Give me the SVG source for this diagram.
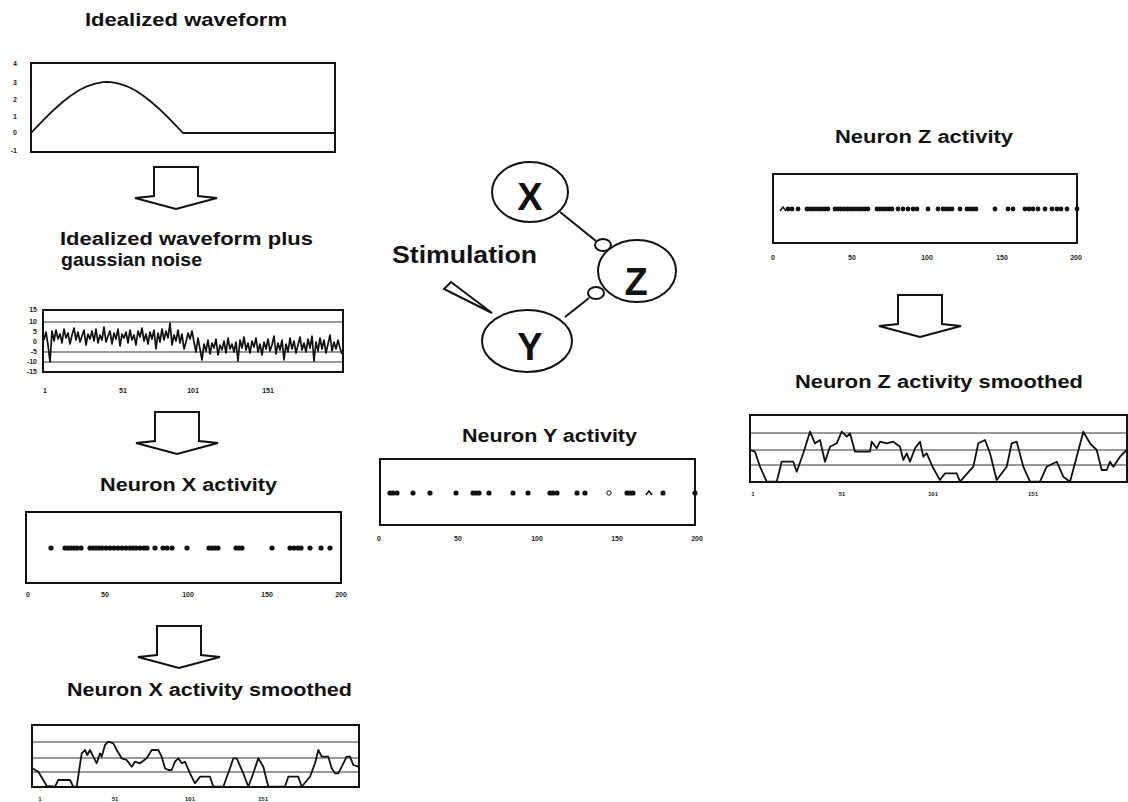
<svg xmlns="http://www.w3.org/2000/svg" width="1128" height="802" viewBox="0 0 1128 802">
<style>
.t{font-family:"Liberation Sans",Arial,sans-serif;font-weight:bold;font-size:18px;fill:#111}
.tk{font-family:"Liberation Sans",Arial,sans-serif;font-weight:bold;font-size:7px;fill:#222;text-anchor:middle}
.tky{font-family:"Liberation Sans",Arial,sans-serif;font-weight:bold;font-size:7px;fill:#222;text-anchor:end}
.nl{font-family:"Liberation Sans",Arial,sans-serif;font-weight:bold;font-size:38px;fill:#111;text-anchor:middle}
.box{fill:none;stroke:#111;stroke-width:2}
.grid{stroke:#333;stroke-width:1;fill:none}
.trace{fill:none;stroke:#111;stroke-width:1.8;stroke-linejoin:round}
.noise{fill:none;stroke:#111;stroke-width:1.7;stroke-linejoin:round}
.dot{fill:#111}
.node{fill:#fff;stroke:#111;stroke-width:2}
.link{stroke:#111;stroke-width:2;fill:none}
.arr{fill:#fff;stroke:#111;stroke-width:2;stroke-linejoin:miter}
</style>
<defs>
<polygon id="blockArrow" class="arr" points="0,0 44,0 44,29 63,31 22,42 -19,31 0,29"/>
</defs>
<rect width="1128" height="802" fill="#fff"/>

<g id="chart-idealized">
<text class="t" x="85" y="26" textLength="202" lengthAdjust="spacingAndGlyphs">Idealized waveform</text>
<rect class="box" x="31" y="63" width="304" height="89"/>
<text class="tky" x="17" y="66">4</text>
<text class="tky" x="17" y="85">3</text>
<text class="tky" x="17" y="102">2</text>
<text class="tky" x="17" y="119">1</text>
<text class="tky" x="17" y="135">0</text>
<text class="tky" x="17" y="153">-1</text>
<polyline class="trace" points="31,133 39,124.6 47,116.4 55,108.7 63,101.7 71,95.5 79,90.3 87,86.3 95,83.6 103,82.2 107,82 111,82.2 119,83.6 127,86.3 135,90.3 143,95.5 151,101.7 159,108.7 167,116.4 175,124.6 183,133 335,133"/>
</g>

<g id="chart-noise">
<text class="t" x="60" y="245" textLength="253" lengthAdjust="spacingAndGlyphs">Idealized waveform plus</text>
<text class="t" x="61" y="266" textLength="141" lengthAdjust="spacingAndGlyphs">gaussian noise</text>
<line class="grid" x1="43" y1="322" x2="343" y2="322"/>
<line class="grid" x1="43" y1="352" x2="343" y2="352"/>
<line class="grid" x1="43" y1="362" x2="343" y2="362"/>
<rect class="box" x="43" y="310" width="300" height="62"/>
<text class="tky" x="37" y="312">15</text>
<text class="tky" x="37" y="324">10</text>
<text class="tky" x="37" y="334">5</text>
<text class="tky" x="37" y="344">0</text>
<text class="tky" x="37" y="354">-5</text>
<text class="tky" x="37" y="364">-10</text>
<text class="tky" x="37" y="374">-15</text>
<text class="tk" x="45" y="393">1</text>
<text class="tk" x="123" y="393">51</text>
<text class="tk" x="193" y="393">101</text>
<text class="tk" x="268" y="393">151</text>
<polyline class="noise" points="44,340 46,332 48,345 50,362 52,331 54,341 56,330 58,339 60,334 62,343 64,329 66,338 68,333 70,344 72,335 74,328 76,340 78,332 80,342 82,336 84,330 86,345 88,334 90,339 92,331 94,341 96,329 98,343 100,335 102,340 104,327 106,342 108,336 110,331 112,344 114,333 116,339 118,329 120,346 122,334 124,338 126,332 128,343 130,330 132,340 134,335 136,345 138,331 140,337 142,328 144,341 146,334 148,344 150,332 152,339 154,330 156,349 158,333 160,342 162,329 164,340 166,331 168,338 170,323 172,345 174,335 176,341 178,330 180,343 182,334 184,349 186,342 188,333 190,339 192,331 194,342 196,352 198,338 200,349 202,360 204,344 206,351 208,340 210,354 212,343 214,348 216,339 218,355 220,345 222,350 224,341 226,353 228,338 230,349 232,344 234,352 236,342 238,361 240,340 242,348 244,337 246,350 248,343 250,353 252,341 254,347 256,338 258,352 260,344 262,355 264,342 266,349 268,339 270,351 272,345 274,336 276,354 278,343 280,350 282,340 284,360 286,344 288,352 290,338 292,349 294,341 296,353 298,345 300,337 302,350 304,343 306,352 308,339 310,348 312,336 314,361 316,342 318,351 320,338 322,349 324,340 326,353 328,344 330,335 332,351 334,342 336,349 338,340 340,348 342,354"/>
</g>

<g id="chart-x-activity">
<text class="t" x="100" y="491" textLength="177" lengthAdjust="spacingAndGlyphs">Neuron X activity</text>
<rect class="box" x="26" y="512" width="315" height="71"/>
<g class="dot">
<circle cx="51" cy="548" r="2.6"/><circle cx="65" cy="548" r="2.6"/><circle cx="68" cy="548" r="2.6"/><circle cx="71" cy="548" r="2.6"/><circle cx="74" cy="548" r="2.6"/><circle cx="77" cy="548" r="2.6"/><circle cx="81" cy="548" r="2.6"/>
<circle cx="90" cy="548" r="2.6"/><circle cx="93" cy="548" r="2.6"/><circle cx="96" cy="548" r="2.6"/><circle cx="99" cy="548" r="2.6"/><circle cx="102" cy="548" r="2.6"/><circle cx="106" cy="548" r="2.6"/><circle cx="110" cy="548" r="2.6"/><circle cx="114" cy="548" r="2.6"/><circle cx="118" cy="548" r="2.6"/><circle cx="122" cy="548" r="2.6"/><circle cx="126" cy="548" r="2.6"/><circle cx="130" cy="548" r="2.6"/><circle cx="133" cy="548" r="2.6"/><circle cx="136" cy="548" r="2.6"/><circle cx="140" cy="548" r="2.6"/><circle cx="144" cy="548" r="2.6"/><circle cx="147" cy="548" r="2.6"/>
<circle cx="155" cy="548" r="2.6"/><circle cx="163" cy="548" r="2.6"/><circle cx="167" cy="548" r="2.6"/><circle cx="172" cy="548" r="2.6"/><circle cx="187" cy="548" r="2.6"/>
<circle cx="209" cy="548" r="2.6"/><circle cx="212" cy="548" r="2.6"/><circle cx="215" cy="548" r="2.6"/><circle cx="218" cy="548" r="2.6"/>
<circle cx="236" cy="548" r="2.6"/><circle cx="239" cy="548" r="2.6"/><circle cx="242" cy="548" r="2.6"/>
<circle cx="272" cy="548" r="2.6"/><circle cx="290" cy="548" r="2.6"/><circle cx="294" cy="548" r="2.6"/><circle cx="298" cy="548" r="2.6"/><circle cx="301" cy="548" r="2.6"/><circle cx="310" cy="548" r="2.6"/><circle cx="321" cy="548" r="2.6"/><circle cx="330" cy="548" r="2.6"/>
</g>
<text class="tk" x="28" y="597">0</text>
<text class="tk" x="105" y="597">50</text>
<text class="tk" x="188" y="597">100</text>
<text class="tk" x="267" y="597">150</text>
<text class="tk" x="341" y="597">200</text>
</g>

<g id="chart-x-smoothed">
<text class="t" x="67" y="696" textLength="285" lengthAdjust="spacingAndGlyphs">Neuron X activity smoothed</text>
<line class="grid" x1="32" y1="742" x2="359" y2="742"/>
<line class="grid" x1="32" y1="758" x2="359" y2="758"/>
<line class="grid" x1="32" y1="772" x2="359" y2="772"/>
<rect class="box" x="32" y="725" width="327" height="62"/>
<polyline class="trace" points="32.3,768.3 38.3,771.7 43.3,780 46.7,786 55,786.7 58.3,780 70,780 73.3,786.7 76.7,786.7 81.7,753.3 85,750 87.3,755 90,750 93.3,756.7 96.7,763.3 100,753.3 101.7,756.7 105,745 108.3,741.7 113.3,743.3 116.7,750 121.7,758.3 126.7,760 131.7,766.7 135,761.7 140,763.3 146.7,758.3 151.7,750 158.3,750 161.7,756.7 165,768.3 168.3,770 171.7,770 175,761.7 178.3,758.3 181.7,763.3 185,761.7 190,773.3 195,783.3 200,776.7 210,776.7 213.3,786.7 223.3,786.7 230,768.3 233.3,758.3 236.7,758.3 243.3,773.3 248.3,786.7 253.3,773.3 258.3,758.3 263.3,766.7 268.3,786.7 285,786.7 288.3,776.7 298.3,776.7 301.7,786.7 310,776.7 315,763.3 318.3,750 321.7,756.7 328.3,756.7 331.7,768.3 335,773.3 338.3,773.3 341.7,766.7 346.7,756.7 350,756.7 353.3,765 358.3,766.7"/>
<text class="tk" x="40" y="801" style="font-size:6px">1</text>
<text class="tk" x="115" y="801" style="font-size:6px">51</text>
<text class="tk" x="190" y="801" style="font-size:6px">101</text>
<text class="tk" x="263" y="801" style="font-size:6px">151</text>
</g>

<g id="connectors">
<use href="#blockArrow" x="154" y="167"/>
<use href="#blockArrow" x="155" y="412"/>
<use href="#blockArrow" x="157" y="626"/>
<use href="#blockArrow" x="898" y="295"/>
<line class="link" x1="560" y1="212" x2="596" y2="241"/>
<line class="link" x1="565" y1="317" x2="589" y2="298"/>
<ellipse class="node" cx="603" cy="245" rx="8" ry="6"/>
<ellipse class="node" cx="596" cy="293" rx="8" ry="6"/>
<polygon class="node" points="444,289 451,282 492,313"/>
</g>

<g id="node-stimulation">
<text class="t" x="392" y="263" style="font-size:23px" textLength="145" lengthAdjust="spacingAndGlyphs">Stimulation</text>
</g>
<g id="node-x">
<ellipse class="node" cx="530" cy="192" rx="38" ry="30"/>
<text class="nl" x="530" y="210">X</text>
</g>
<g id="node-z">
<ellipse class="node" cx="637" cy="271" rx="39" ry="31"/>
<text class="nl" x="636" y="295">Z</text>
</g>
<g id="node-y">
<ellipse class="node" cx="527" cy="341" rx="45" ry="31"/>
<text class="nl" x="530" y="360">Y</text>
</g>

<g id="chart-y-activity">
<text class="t" x="462" y="442" textLength="175" lengthAdjust="spacingAndGlyphs">Neuron Y activity</text>
<rect class="box" x="380" y="459" width="315" height="66"/>
<g class="dot">
<circle cx="390" cy="493" r="2.6"/><circle cx="393" cy="493" r="2.6"/><circle cx="397" cy="493" r="2.6"/><circle cx="413" cy="493" r="2.6"/><circle cx="430" cy="493" r="2.6"/><circle cx="456" cy="493" r="2.6"/>
<circle cx="473" cy="493" r="2.6"/><circle cx="476" cy="493" r="2.6"/><circle cx="479" cy="493" r="2.6"/><circle cx="489" cy="493" r="2.6"/><circle cx="513" cy="493" r="2.6"/><circle cx="528" cy="493" r="2.6"/>
<circle cx="550" cy="493" r="2.6"/><circle cx="553" cy="493" r="2.6"/><circle cx="557" cy="493" r="2.6"/><circle cx="577" cy="493" r="2.6"/><circle cx="585" cy="493" r="2.6"/>
<circle cx="627" cy="493" r="2.6"/><circle cx="630" cy="493" r="2.6"/><circle cx="633" cy="493" r="2.6"/><circle cx="663" cy="493" r="2.6"/><circle cx="695" cy="493" r="2.6"/>
</g>
<circle cx="609" cy="493" r="2.2" fill="#fff" stroke="#111" stroke-width="1"/>
<path d="M646,495 L649,491 L652,495" fill="none" stroke="#111" stroke-width="1.5"/>
<text class="tk" x="379" y="541">0</text>
<text class="tk" x="458" y="541">50</text>
<text class="tk" x="537" y="541">100</text>
<text class="tk" x="617" y="541">150</text>
<text class="tk" x="697" y="541">200</text>
</g>

<g id="chart-z-activity">
<text class="t" x="835" y="143" textLength="178" lengthAdjust="spacingAndGlyphs">Neuron Z activity</text>
<rect class="box" x="773" y="174" width="304" height="69"/>
<path d="M780,211 L783,207 L786,211" fill="none" stroke="#111" stroke-width="1.5"/>
<g class="dot">
<circle cx="788" cy="209" r="2.4"/><circle cx="792" cy="209" r="2.4"/><circle cx="798" cy="209" r="2.4"/>
<circle cx="807" cy="209" r="2.4"/><circle cx="810" cy="209" r="2.4"/><circle cx="813" cy="209" r="2.4"/><circle cx="816" cy="209" r="2.4"/><circle cx="819" cy="209" r="2.4"/><circle cx="822" cy="209" r="2.4"/><circle cx="825" cy="209" r="2.4"/><circle cx="828" cy="209" r="2.4"/>
<circle cx="835" cy="209" r="2.4"/><circle cx="838" cy="209" r="2.4"/><circle cx="841" cy="209" r="2.4"/><circle cx="844" cy="209" r="2.4"/><circle cx="847" cy="209" r="2.4"/><circle cx="850" cy="209" r="2.4"/><circle cx="853" cy="209" r="2.4"/><circle cx="856" cy="209" r="2.4"/><circle cx="859" cy="209" r="2.4"/><circle cx="862" cy="209" r="2.4"/><circle cx="865" cy="209" r="2.4"/><circle cx="868" cy="209" r="2.4"/>
<circle cx="877" cy="209" r="2.4"/><circle cx="880" cy="209" r="2.4"/><circle cx="883" cy="209" r="2.4"/><circle cx="886" cy="209" r="2.4"/><circle cx="889" cy="209" r="2.4"/><circle cx="892" cy="209" r="2.4"/>
<circle cx="898" cy="209" r="2.4"/><circle cx="903" cy="209" r="2.4"/><circle cx="908" cy="209" r="2.4"/><circle cx="913" cy="209" r="2.4"/><circle cx="917" cy="209" r="2.4"/><circle cx="928" cy="209" r="2.4"/>
<circle cx="938" cy="209" r="2.4"/><circle cx="943" cy="209" r="2.4"/><circle cx="946" cy="209" r="2.4"/><circle cx="949" cy="209" r="2.4"/><circle cx="952" cy="209" r="2.4"/><circle cx="960" cy="209" r="2.4"/>
<circle cx="967" cy="209" r="2.4"/><circle cx="970" cy="209" r="2.4"/><circle cx="973" cy="209" r="2.4"/><circle cx="976" cy="209" r="2.4"/><circle cx="995" cy="209" r="2.4"/>
<circle cx="1008" cy="209" r="2.4"/><circle cx="1013" cy="209" r="2.4"/><circle cx="1025" cy="209" r="2.4"/><circle cx="1029" cy="209" r="2.4"/><circle cx="1033" cy="209" r="2.4"/><circle cx="1038" cy="209" r="2.4"/>
<circle cx="1045" cy="209" r="2.4"/><circle cx="1052" cy="209" r="2.4"/><circle cx="1057" cy="209" r="2.4"/><circle cx="1061" cy="209" r="2.4"/><circle cx="1067" cy="209" r="2.4"/><circle cx="1077" cy="209" r="2.4"/>
</g>
<text class="tk" x="773" y="260">0</text>
<text class="tk" x="852" y="260">50</text>
<text class="tk" x="927" y="260">100</text>
<text class="tk" x="1002" y="260">150</text>
<text class="tk" x="1076" y="260">200</text>
</g>

<g id="chart-z-smoothed">
<text class="t" x="795" y="388" textLength="288" lengthAdjust="spacingAndGlyphs">Neuron Z activity smoothed</text>
<line class="grid" x1="750" y1="433" x2="1128" y2="433"/>
<line class="grid" x1="750" y1="450" x2="1128" y2="450"/>
<line class="grid" x1="750" y1="465" x2="1128" y2="465"/>
<rect class="box" x="750" y="415" width="377" height="67"/>
<polyline class="trace" points="750,450 755,451.7 760,466.7 766.7,481.7 776.7,481.7 781.7,461.7 793.3,461.7 796.7,471.7 803.3,453.3 810,431.7 815,443.3 820,440 825,461.7 830,446.7 836.7,443.3 841.7,431.7 846.7,436.7 850,433.3 855,451.7 870,451.7 871.7,441.7 876.7,448.3 880,441.7 886.7,443.3 893.3,441.7 900,446.7 903.3,460 906.7,453.3 910,461.7 915,448.3 920,441.7 923.3,456.7 926.7,453.3 933.3,468.3 940,480 945,473.3 956.7,473.3 960,481.7 973.3,466.7 978.3,443.3 985,440 990,453.3 996.7,480 1006.7,466.7 1011.7,443.3 1016.7,441.7 1023.3,466.7 1030,481.7 1040,481.7 1046.7,466.7 1056.7,461.7 1063.3,476.7 1070,481.7 1076.7,456.7 1083.3,431.7 1090,443.3 1096.7,450 1101.7,470 1106.7,470 1110,461.7 1113.3,466.7 1120,456.7 1126.7,450"/>
<text class="tk" x="753" y="496" style="font-size:6px">1</text>
<text class="tk" x="842" y="496" style="font-size:6px">51</text>
<text class="tk" x="933" y="496" style="font-size:6px">101</text>
<text class="tk" x="1033" y="496" style="font-size:6px">151</text>
</g>
</svg>
